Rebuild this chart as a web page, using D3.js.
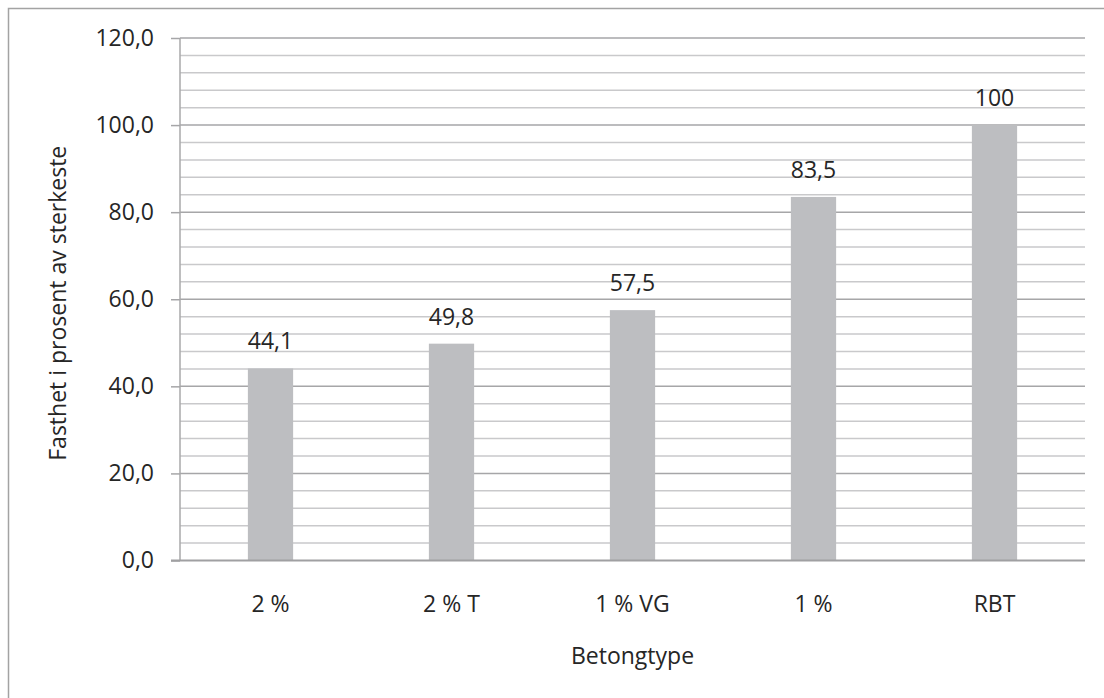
<!DOCTYPE html>
<html>
<head>
<meta charset="utf-8">
<script src="https://cdn.jsdelivr.net/npm/d3@7"></script>
<style>
  html, body { margin: 0; padding: 0; background: #fff; }
  svg { display: block; }
  text { font-family: "Open Sans", "DejaVu Sans", sans-serif; fill: #262626; }
</style>
</head>
<body>
<svg id="chart" width="1104" height="698"></svg>
<script>
// Betongtyper og fasthet i prosent av den sterkeste
const categories = ["2 %", "2 % T", "1 % VG", "1 %", "RBT"];
const values = [44.1, 49.8, 57.5, 83.5, 100];
const yTicks = [0, 20, 40, 60, 80, 100, 120];
const yMinorStep = 4;
const yMax = 120;
const xTitle = "Betongtype";
const yTitle = "Fasthet i prosent av sterkeste";

const svg = d3.select("#chart");
const W = 1104, H = 698;
const plot = { left: 180, right: 1085, top: 38, bottom: 560.5 };
const fontSize = 23;

// Outer chart frame
svg.append("rect")
  .attr("x", 8.5).attr("y", 8.5)
  .attr("width", W + 50).attr("height", H + 50)
  .attr("fill", "#fff")
  .attr("stroke", "#A3A3A3")
  .attr("stroke-width", 1.5);

const x = d3.scaleBand()
  .domain(categories)
  .range([plot.left, plot.right])
  .padding(0);

const y = d3.scaleLinear()
  .domain([0, yMax])
  .range([plot.bottom, plot.top]);

const comma = d3.formatLocale({ decimal: ",", thousands: " ", grouping: [3], currency: ["", ""] });
const fmtAxis = comma.format(".1f");
const fmtValue = v => Number.isInteger(v) ? String(v) : comma.format(".1f")(v);

// Minor gridlines
const minor = d3.range(0, yMax + 0.001, yMinorStep).filter(v => !yTicks.includes(v));
svg.append("g").selectAll("line").data(minor).join("line")
  .attr("x1", plot.left).attr("x2", plot.right)
  .attr("y1", d => y(d)).attr("y2", d => y(d))
  .attr("stroke", "#C9C9CB").attr("stroke-width", 1.5);

// Major gridlines
svg.append("g").selectAll("line").data(yTicks.filter(v => v > 0)).join("line")
  .attr("x1", plot.left).attr("x2", plot.right)
  .attr("y1", d => y(d)).attr("y2", d => y(d))
  .attr("stroke", "#A6A6A8").attr("stroke-width", 1.5);

// Bars: a quarter of each category band, centred
const barW = x.bandwidth() * 0.25;
svg.append("g").selectAll("rect").data(values).join("rect")
  .attr("x", (d, i) => x(categories[i]) + (x.bandwidth() - barW) / 2)
  .attr("y", d => y(d))
  .attr("width", barW)
  .attr("height", d => y(0) - y(d))
  .attr("fill", "#BDBEC1");

// Y axis
const yAxis = svg.append("g")
  .attr("transform", `translate(${plot.left},0)`)
  .call(d3.axisLeft(y).tickValues(yTicks).tickFormat(fmtAxis).tickSize(9).tickPadding(17));
yAxis.select(".domain").attr("stroke", "#A8A8AA").attr("stroke-width", 1.5)
  .attr("d", `M0,${plot.top}V${plot.bottom}`);
yAxis.selectAll(".tick line").attr("stroke", "#A6A6A8").attr("stroke-width", 1.5);
yAxis.selectAll(".tick text")
  .attr("font-size", fontSize)
  .attr("font-family", '"Open Sans", sans-serif')
  .attr("fill", "#262626");

// Category axis (baseline only)
const xAxis = svg.append("g")
  .attr("transform", `translate(0,${plot.bottom})`)
  .call(d3.axisBottom(x).tickSize(0).tickPadding(0));
xAxis.select(".domain").remove();
xAxis.selectAll(".tick text")
  .attr("font-size", fontSize)
  .attr("font-family", '"Open Sans", sans-serif')
  .attr("fill", "#262626")
  .attr("dy", null)
  .attr("y", 612 - plot.bottom);
svg.append("line")
  .attr("x1", plot.left - 9).attr("x2", plot.right)
  .attr("y1", y(0)).attr("y2", y(0))
  .attr("stroke", "#A0A0A2").attr("stroke-width", 2);

// Value labels
svg.append("g").selectAll("text").data(values).join("text")
  .attr("x", (d, i) => x(categories[i]) + x.bandwidth() / 2)
  .attr("y", d => y(d) - 19)
  .attr("text-anchor", "middle")
  .attr("font-size", fontSize)
  .text(d => fmtValue(d));

// Axis titles
svg.append("text")
  .attr("x", (plot.left + plot.right) / 2)
  .attr("y", 664)
  .attr("text-anchor", "middle")
  .attr("font-size", fontSize)
  .text(xTitle);

svg.append("text")
  .attr("transform", `translate(57,${(plot.top + plot.bottom) / 2 + 4}) rotate(-90)`)
  .attr("text-anchor", "middle")
  .attr("dominant-baseline", "central")
  .attr("font-size", fontSize)
  .text(yTitle);
</script>
</body>
</html>
